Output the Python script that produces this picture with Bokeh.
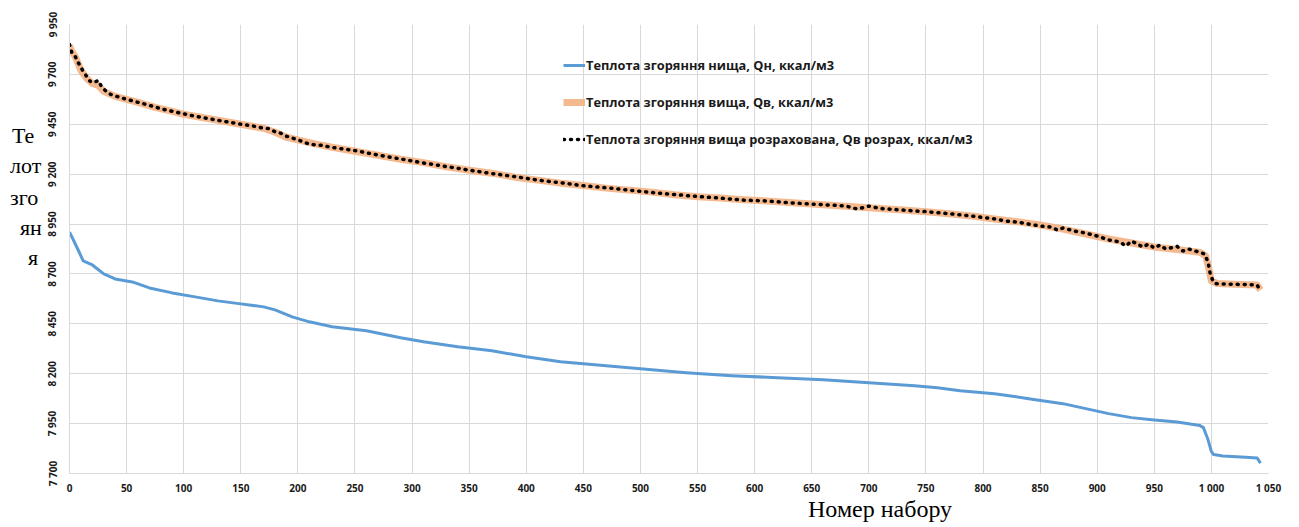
import math
from bokeh.plotting import figure
from bokeh.models import FixedTicker, Legend, LegendItem, Div
from bokeh.layouts import row, column
from bokeh.embed import file_html
from bokeh.resources import INLINE

# ---------------- data ----------------
qn_x = [0, 3, 8, 12, 20, 30, 40, 55, 70, 90, 110, 130, 150, 170, 180, 195, 210, 230, 260, 290,
        310, 340, 370, 400, 430, 460, 500, 540, 580, 620, 660, 700, 740, 760, 780, 810, 840, 870,
        890, 910, 930, 950, 970, 990, 993, 997, 1000, 1002, 1010, 1030, 1040, 1043]
qn_y = [8910, 8875, 8815, 8765, 8745, 8700, 8675, 8660, 8630, 8605, 8585, 8565, 8550, 8535, 8520,
        8485, 8460, 8435, 8415, 8380, 8360, 8335, 8315, 8285, 8260, 8245, 8225, 8205, 8190, 8180,
        8170, 8155, 8140, 8130, 8115, 8100, 8075, 8050, 8025, 8000, 7980, 7968, 7958, 7940, 7930,
        7870, 7810, 7795, 7788, 7782, 7778, 7752]

qv_x = [0, 2, 5, 10, 15, 20, 25, 30, 40, 50, 60, 75, 90, 100, 115, 130, 145, 160, 170, 180, 190,
        200, 215, 230, 250, 270, 290, 310, 330, 350, 370, 390, 410, 430, 450, 470, 490, 510, 530,
        550, 570, 590, 610, 630, 650, 670, 690, 710, 730, 750, 770, 790, 810, 830, 850, 870, 890,
        910, 930, 950, 970, 990, 995, 998, 1000, 1005, 1020, 1040, 1043]
qv_y = [9845, 9815, 9790, 9720, 9680, 9655, 9645, 9615, 9590, 9575, 9560, 9535, 9515, 9500, 9485,
        9470, 9455, 9440, 9430, 9410, 9385, 9372, 9352, 9335, 9315, 9295, 9275, 9258, 9237, 9220,
        9205, 9185, 9170, 9155, 9143, 9130, 9120, 9110, 9097, 9087, 9080, 9072, 9066, 9058, 9050,
        9043, 9035, 9028, 9020, 9012, 9002, 8990, 8975, 8962, 8945, 8925, 8900, 8875, 8855, 8835,
        8822, 8808, 8790, 8720, 8665, 8652, 8648, 8645, 8620]

qc_x = [0, 2, 5, 8, 12, 15, 18, 22, 25, 28, 32, 36, 40, 50, 60, 70, 80, 90, 100, 115, 130, 145,
        160, 170, 175, 180, 185, 190, 200, 210, 220, 230, 250, 270, 290, 310, 330, 350, 370, 390,
        410, 430, 450, 470, 490, 510, 530, 550, 570, 590, 610, 630, 650, 670, 680, 690, 700, 710,
        730, 750, 770, 790, 810, 820, 830, 840, 850, 860, 865, 870, 880, 890, 900, 905, 910, 920,
        925, 930, 940, 945, 950, 955, 960, 970, 975, 980, 990, 994, 997, 999, 1001, 1003, 1010,
        1020, 1030, 1040, 1043]
qc_y = [9850, 9810, 9790, 9755, 9715, 9690, 9665, 9660, 9670, 9640, 9615, 9600, 9592, 9575, 9560,
        9545, 9528, 9515, 9502, 9485, 9470, 9455, 9442, 9430, 9428, 9412, 9405, 9390, 9372, 9350,
        9345, 9334, 9318, 9296, 9276, 9256, 9238, 9220, 9203, 9188, 9170, 9157, 9142, 9132, 9120,
        9108, 9098, 9088, 9080, 9070, 9066, 9057, 9050, 9044, 9040, 9025, 9040, 9028, 9020, 9012,
        9002, 8990, 8976, 8965, 8960, 8950, 8940, 8935, 8920, 8930, 8915, 8905, 8890, 8880, 8870,
        8860, 8840, 8865, 8835, 8850, 8830, 8845, 8825, 8838, 8815, 8825, 8808, 8800, 8760, 8700,
        8670, 8652, 8650, 8648, 8647, 8645, 8615]

x_ticks = [0, 50, 100, 150, 200, 250, 300, 350, 400, 450, 500, 550, 600, 650, 700, 750, 800, 850,
           900, 950, 1000, 1050]
x_tick_labels = ["0", "50", "100", "150", "200", "250", "300", "350", "400", "450", "500", "550",
                 "600", "650", "700", "750", "800", "850", "900", "950", "1 000", "1 050"]
y_ticks = [7700, 7950, 8200, 8450, 8700, 8950, 9200, 9450, 9700, 9950]
y_tick_labels = ["7 700", "7 950", "8 200", "8 450", "8 700", "8 950", "9 200", "9 450", "9 700",
                 "9 950"]

series_names = ["Теплота згоряння нища, Qн, ккал/м3",
                "Теплота згоряння вища, Qв, ккал/м3",
                "Теплота згоряння вища розрахована, Qв розрах, ккал/м3"]
x_title = "Номер набору"
y_title_parts = ["Те", "лот", "зго", "ян", "я"]

DIV_W = 42
# ---------------- figure ----------------
p = figure(width=1291 - DIV_W, height=497, x_range=(0, 1050), y_range=(7700, 9950),
           output_backend="svg", toolbar_location=None,
           min_border_left=69 - DIV_W, min_border_right=23, min_border_top=24, min_border_bottom=22)
p.outline_line_color = None
p.background_fill_color = "white"

grid_col = "#d9d9d9"
for ax in (p.xaxis[0], p.yaxis[0]):
    ax.axis_line_color = grid_col
    ax.major_tick_line_color = None
    ax.minor_tick_line_color = None
    ax.major_label_text_font = "Open Sans"
    ax.major_label_text_font_style = "bold"
    ax.major_label_text_font_size = "10px"
    ax.major_label_text_color = "#1a1a1a"
    ax.axis_label = None
    ax.axis_label_standoff = 0

p.xaxis.ticker = FixedTicker(ticks=x_ticks)
p.xaxis.major_label_overrides = {t: l for t, l in zip(x_ticks, x_tick_labels)}
p.xaxis.major_label_standoff = 1
p.yaxis.ticker = FixedTicker(ticks=y_ticks)
p.yaxis.major_label_overrides = {t: l for t, l in zip(y_ticks, y_tick_labels)}
p.yaxis.major_label_orientation = "vertical"
p.yaxis.major_tick_out = 0
p.yaxis.major_tick_in = 0
p.yaxis.major_label_standoff = 10

p.xgrid.grid_line_color = grid_col
p.ygrid.grid_line_color = grid_col

r1 = p.line(qn_x, qn_y, line_color="#5B9BD5", line_width=3, line_join="round")
r2 = p.line(qv_x, qv_y, line_color="#F4B183", line_width=7, line_join="round", line_alpha=0.9)
r3 = p.line(qc_x, qc_y, line_color="black", line_width=3.5, line_dash="1 6", line_cap="round")

legend = Legend(items=[LegendItem(label=series_names[0], renderers=[r1]),
                       LegendItem(label=series_names[1], renderers=[r2]),
                       LegendItem(label=series_names[2], renderers=[r3])],
                location=(494, 324), orientation="vertical")
legend.background_fill_alpha = 0
legend.border_line_color = None
legend.padding = 0
legend.margin = 0
legend.spacing = 17
legend.glyph_width = 22
legend.glyph_height = 20
legend.label_height = 20
legend.label_standoff = 1
legend.label_text_font = "Open Sans"
legend.label_text_font_style = "bold"
legend.label_text_font_size = "12.8px"
legend.label_text_color = "#1a1a1a"
p.add_layout(legend, "center")

# wrapped y-axis title, as HTML text to the left of the plot
tops = [125, 155, 187, 217, 247]
lefts = [12, 10, 10, 20, 28]
spans = "".join(
    f'<div style="position:absolute;left:{lx}px;top:{ty}px;font-family:\'Liberation Serif\';'
    f'font-size:22px;line-height:22px;color:black;white-space:nowrap;">{t}</div>'
    for t, lx, ty in zip(y_title_parts, lefts, tops))
ydiv = Div(text=f'<div style="position:relative;width:{DIV_W}px;height:497px;">{spans}</div>',
           width=DIV_W, height=497, margin=0)

xdiv = Div(text=(f'<div style="position:relative;width:1291px;height:30px;">'
                 f'<div style="position:absolute;left:808px;top:0px;font-family:\'Liberation Serif\';'
                 f'font-size:24px;line-height:24px;color:black;white-space:nowrap;">{x_title}</div></div>'),
           width=1291, height=30, margin=0)

layout = column(row(ydiv, p, spacing=0), xdiv, spacing=0)
open("out.html", "w").write(file_html(layout, INLINE))
